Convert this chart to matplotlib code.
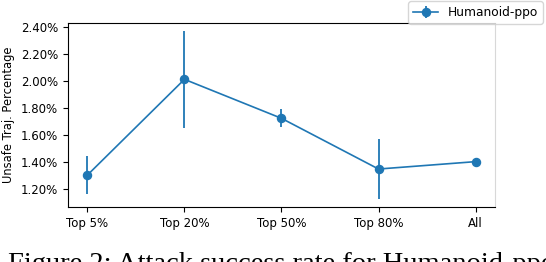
import matplotlib
matplotlib.use('Agg')
import matplotlib.pyplot as plt
from matplotlib.ticker import FuncFormatter

categories = ['Top 5%', 'Top 20%', 'Top 50%', 'Top 80%', 'All']
unsafe_pct = [1.30, 2.012, 1.722, 1.345, 1.40]
unsafe_err = [0.14, 0.36, 0.066, 0.22, 0.02]
series_name = 'Humanoid-ppo'
caption = 'Figure 2: Attack success rate for Humanoid-ppo'

fig = plt.figure(figsize=(5.46, 2.62), dpi=100)
ax = fig.add_axes([0.1245, 0.2099, 0.7821, 0.7041])

x = list(range(len(categories)))
ax.errorbar(x, unsafe_pct, yerr=unsafe_err, color='#1f77b4', marker='o',
            markersize=5.8, linewidth=1.2, elinewidth=1.3, label=series_name)

ax.set_xticks(x)
ax.set_xticklabels(categories, fontsize=8.5)
ax.set_yticks([1.2, 1.4, 1.6, 1.8, 2.0, 2.2, 2.4])
ax.yaxis.set_major_formatter(FuncFormatter(lambda v, p: '%.2f%%' % v))
ax.tick_params(axis='y', labelsize=8.5)
ax.set_ylabel('Unsafe Traj. Percentage', fontsize=8.3)
ax.spines['right'].set_color('#d8d8d8')

ax.legend(loc='upper right', bbox_to_anchor=(1.112, 1.116), borderaxespad=0,
          fontsize=8.8)

# caption from the paper, cut off at the bottom edge
fig.text(0.015, -0.036, caption, fontsize=20.5, family='Liberation Serif',
         va='baseline', ha='left')

fig.savefig('out.png', dpi=100)
